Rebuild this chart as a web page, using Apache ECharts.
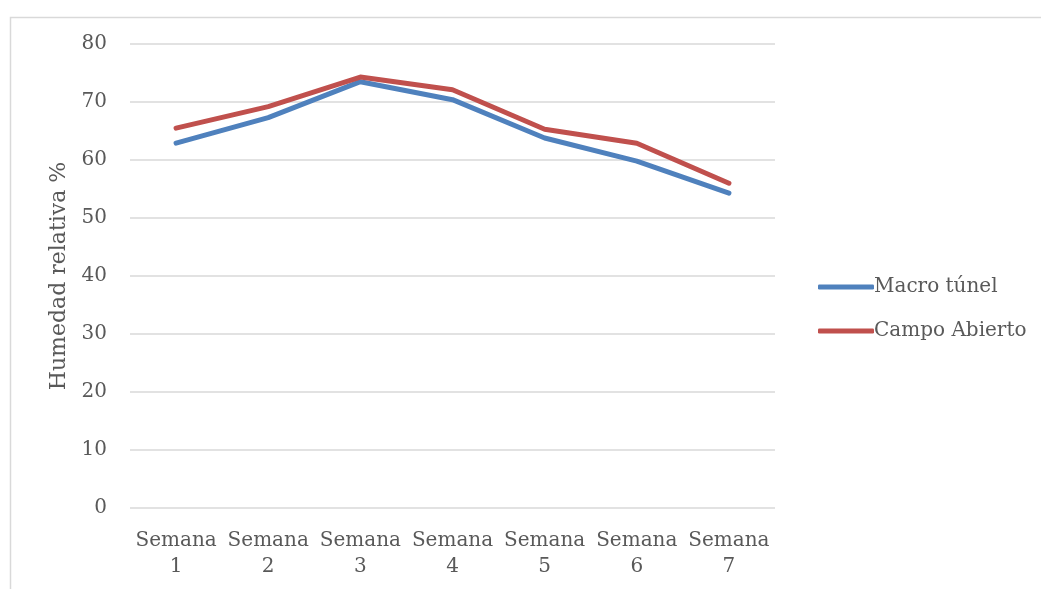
<!DOCTYPE html>
<html>
<head>
<meta charset="utf-8">
<script src="https://cdn.jsdelivr.net/npm/echarts@6/dist/echarts.min.js"></script>
<style>
  html, body { margin: 0; padding: 0; background: #ffffff; }
  #chart { width: 1041px; height: 589px; }
</style>
</head>
<body>
<div id="chart"></div>
<script>
// Weekly relative humidity (%) under macro tunnel vs. open field
const categories = ['Semana\n1', 'Semana\n2', 'Semana\n3', 'Semana\n4', 'Semana\n5', 'Semana\n6', 'Semana\n7'];
const macroTunel = [62.9, 67.3, 73.5, 70.4, 63.8, 59.8, 54.3];
const campoAbierto = [65.5, 69.2, 74.3, 72.1, 65.3, 62.9, 56.0];
const seriesNames = ['Macro túnel', 'Campo Abierto'];
const yTicks = { min: 0, max: 80, interval: 10 };

const FONT = 'DejaVu Serif';
const TEXT = '#595959';

const chart = echarts.init(document.getElementById('chart'), null, { renderer: 'canvas' });

chart.setOption({
  backgroundColor: '#ffffff',
  animation: false,
  textStyle: { fontFamily: FONT, color: TEXT },
  graphic: [{
    type: 'rect',
    left: 8, top: 15,
    shape: { width: 1200, height: 800 },
    style: { fill: 'none', stroke: '#d9d9d9', lineWidth: 1.5 },
    silent: true
  }],
  grid: { left: 130, right: 266, top: 44, bottom: 81 },
  legend: {
    orient: 'vertical',
    left: 813, top: 272,
    itemWidth: 56, itemHeight: 5, itemGap: 24,
    icon: 'roundRect',
    textStyle: { fontFamily: FONT, fontSize: 20, color: TEXT, padding: [0, 0, 0, -5] },
    data: seriesNames
  },
  xAxis: {
    type: 'category',
    data: categories,
    boundaryGap: true,
    axisLine: { show: false },
    axisTick: { show: false },
    axisLabel: {
      interval: 0, margin: 20, lineHeight: 26,
      fontFamily: FONT, fontSize: 20, color: TEXT
    }
  },
  yAxis: {
    type: 'value',
    min: yTicks.min, max: yTicks.max, interval: yTicks.interval,
    name: 'Humedad relativa %',
    nameLocation: 'middle',
    nameGap: 59,
    nameTextStyle: { fontFamily: FONT, fontSize: 22, color: TEXT },
    axisLine: { show: false },
    axisTick: { show: false },
    axisLabel: { margin: 23, fontFamily: FONT, fontSize: 20, color: TEXT },
    splitLine: { lineStyle: { color: '#d9d9d9', width: 1.5 } }
  },
  series: [
    {
      name: seriesNames[0], type: 'line', data: macroTunel,
      showSymbol: false, symbol: 'none',
      color: '#4f81bd',
      lineStyle: { width: 5, color: '#4f81bd', cap: 'round', join: 'round' }
    },
    {
      name: seriesNames[1], type: 'line', data: campoAbierto,
      showSymbol: false, symbol: 'none',
      color: '#c0504d',
      lineStyle: { width: 5, color: '#c0504d', cap: 'round', join: 'round' }
    }
  ]
});
</script>
</body>
</html>
